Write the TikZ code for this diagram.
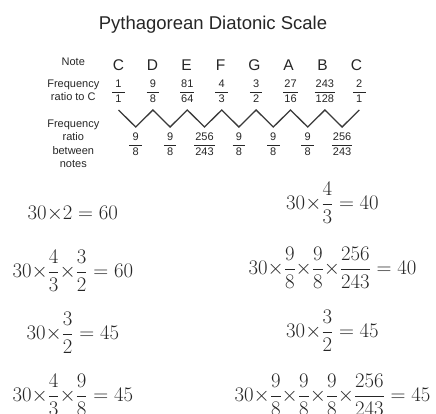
\documentclass[tikz,border=0pt]{standalone}
\usepackage{amsmath}
\usepackage[no-math]{fontspec}
\newfontfamily\labelfont{Liberation Sans}
\definecolor{inkgray}{HTML}{262626}
\definecolor{linegray}{HTML}{3A3A3A}

% fraction with a bar a little wider than its denominator
\newlength\fracw
\newcommand{\ratio}[2]{\settowidth{\fracw}{#2}\addtolength{\fracw}{2pt}%
  \ifdim\fracw<12.5pt\setlength{\fracw}{12.5pt}\fi
  $\genfrac{}{}{0.8pt}{0}{\hbox to\fracw{\hss#1\hss}}{\hbox to\fracw{\hss#2\hss}}$}
\newcommand{\tms}{{\times}}
\newcommand{\fr}[2]{{\frac{#1}{#2}}}

\begin{document}
\begin{tikzpicture}[
  x=1pt, y=-1pt,
  title/.style={font=\labelfont\fontsize{18.5}{22}\selectfont, text=inkgray, anchor=base, inner sep=0pt},
  notename/.style={font=\labelfont\fontsize{15.5}{18}\selectfont, text=inkgray, anchor=base, inner sep=0pt},
  rowlabel/.style={font=\labelfont\fontsize{11}{13.3}\selectfont, text=inkgray, align=center, anchor=base, inner sep=0pt},
  ratio/.style={font=\labelfont\fontsize{11}{13}\selectfont, text=inkgray, anchor=base, inner sep=0pt},
  zigzag/.style={draw=linegray, line width=1.3pt, line join=miter},
  eqn/.style={font=\fontsize{20}{24}\selectfont, text=inkgray, anchor=base, inner sep=0pt}
]
\useasboundingbox (0,0) rectangle (436,414);

\node[title] (title) at (213,29.3) {Pythagorean Diatonic Scale};

% Scale table (row labels sit on the baseline of their last line)
\node[rowlabel] (notelbl) at (73.3,65.7) {Note};
\node[rowlabel] (tolbl) at (73.3,101) {Frequency\\ratio to C};
\node[rowlabel] (steplbl) at (73.3,167.5) {Frequency\\ratio\\between\\notes};

\foreach \n [count=\i from 0] in {C,D,E,F,G,A,B,C}
  \node[notename] (note\i) at (118.5+34*\i,70.5) {\n};
\foreach \a/\b [count=\i from 0] in {1/1,9/8,81/64,4/3,3/2,27/16,243/128,2/1}{
  \node[ratio] (toc\i) at (118.5+34.4*\i,95.25) {\ratio{\a}{\b}};
  \coordinate (hi\i) at (118.5+34.4*\i,110);
}
\foreach \a/\b [count=\i from 0] in {9/8,9/8,256/243,9/8,9/8,9/8,256/243}{
  \node[ratio] (step\i) at (135.7+34.4*\i,147.75) {\ratio{\a}{\b}};
  \coordinate (lo\i) at (135.7+34.4*\i,127);
}
\draw[zigzag] (hi0) foreach \i/\j in {0/1,1/2,2/3,3/4,4/5,5/6,6/7} {-- (lo\i) -- (hi\j)};

% Worked products
\node[eqn] (l1) at (72.8,219.3) {$\displaystyle 30\tms2 = 60$};
\node[eqn] (l2) at (72.8,277.3) {$\displaystyle 30\tms\fr43\tms\fr32 = 60$};
\node[eqn] (l3) at (72.8,339.3) {$\displaystyle 30\tms\fr32 = 45$};
\node[eqn] (l4) at (72.8,401.7) {$\displaystyle 30\tms\fr43\tms\fr98 = 45$};
\node[eqn] (r1) at (332.5,209.3) {$\displaystyle 30\tms\fr43 = 40$};
\node[eqn] (r2) at (332.5,274.3) {$\displaystyle 30\tms\fr98\tms\fr98\tms\fr{256}{243} = 40$};
\node[eqn] (r3) at (332.5,337.3) {$\displaystyle 30\tms\fr32 = 45$};
\node[eqn] (r4) at (332.5,401.7) {$\displaystyle 30\tms\fr98\tms\fr98\tms\fr98\tms\fr{256}{243} = 45$};
\end{tikzpicture}
\end{document}
